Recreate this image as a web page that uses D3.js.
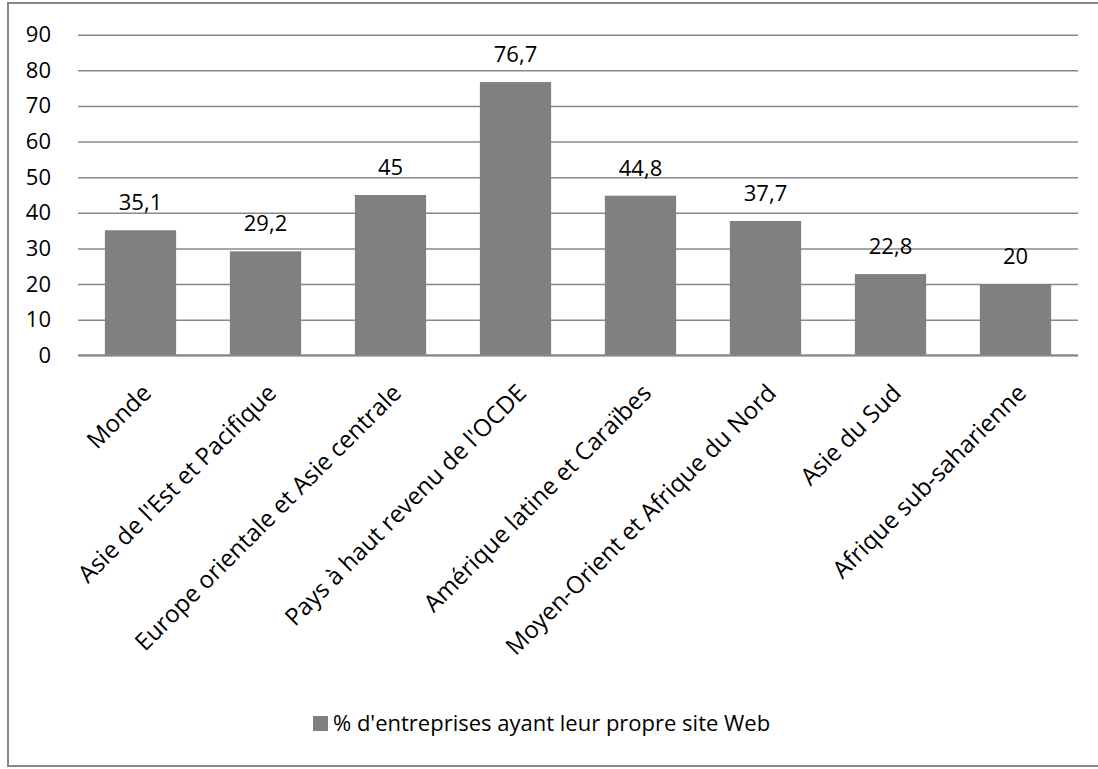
<!DOCTYPE html>
<html>
<head>
<meta charset="utf-8">
<script src="https://cdn.jsdelivr.net/npm/d3@7"></script>
<style>
  body { margin: 0; background: #fff; }
  svg text { font-family: "Open Sans", sans-serif; fill: #000; }
</style>
</head>
<body>
<div id="chart"></div>
<script>
// data
var categories = ["Monde", "Asie de l'Est et Pacifique", "Europe orientale et Asie centrale",
  "Pays à haut revenu de l'OCDE", "Amérique latine et Caraïbes",
  "Moyen-Orient et Afrique du Nord", "Asie du Sud", "Afrique sub-saharienne"];
var values = [35.1, 29.2, 45, 76.7, 44.8, 37.7, 22.8, 20];
var yTicks = [0, 10, 20, 30, 40, 50, 60, 70, 80, 90];
var seriesName = "% d'entreprises ayant leur propre site Web";

var W = 1098, H = 769;
var margin = {top: 34.7, left: 78},
    width = 1078 - margin.left,
    height = 355.3 - margin.top;
var fontSize = "22px";

var svg = d3.select("#chart").append("svg")
  .attr("width", W)
  .attr("height", H);

// outer chart border
svg.append("rect")
  .attr("x", 8).attr("y", 3)
  .attr("width", 1100).attr("height", 763)
  .attr("fill", "none")
  .attr("stroke", "#878787")
  .attr("stroke-width", 2);

var g = svg.append("g")
  .attr("transform", "translate(" + margin.left + "," + margin.top + ")");

var x = d3.scaleBand()
  .domain(categories)
  .range([0, width])
  .paddingInner(0.43)
  .paddingOuter(0.215);

var y = d3.scaleLinear()
  .domain([0, 90])
  .range([height, 0]);

// gridlines
g.append("g")
  .attr("class", "y-grid")
  .call(d3.axisLeft(y).tickValues(yTicks).tickFormat("").tickSizeInner(-width).tickSizeOuter(0))
  .call(s => s.select(".domain").remove())
  .selectAll("line")
    .attr("stroke", "#888")
    .attr("stroke-width", 1.5);

// y labels
g.append("g")
  .call(d3.axisLeft(y).tickValues(yTicks).tickSize(0).tickPadding(27))
  .call(s => s.select(".domain").remove())
  .selectAll("text")
    .style("font-size", fontSize)
    .style("font-family", "'Open Sans', sans-serif");

// bars
g.selectAll(".bar")
  .data(values)
  .enter().append("rect")
  .attr("class", "bar")
  .attr("x", (d, i) => x(categories[i]))
  .attr("y", d => y(d))
  .attr("width", x.bandwidth())
  .attr("height", d => y(0) - y(d))
  .attr("fill", "#808080");

// value labels
g.selectAll(".val")
  .data(values)
  .enter().append("text")
  .attr("class", "val")
  .attr("x", (d, i) => x(categories[i]) + x.bandwidth() / 2)
  .attr("y", d => y(d) - 20)
  .attr("text-anchor", "middle")
  .style("font-size", fontSize)
  .text(d => String(d).replace(".", ","));

// x axis baseline
g.append("line")
  .attr("x1", 0).attr("x2", width)
  .attr("y1", y(0)).attr("y2", y(0))
  .attr("stroke", "#888")
  .attr("stroke-width", 2);

// rotated category labels
g.selectAll(".cat")
  .data(categories)
  .enter().append("text")
  .attr("class", "cat")
  .attr("transform", d => "translate(" + (x(d) + x.bandwidth() / 2) + "," + (height + 27) + ") rotate(-45)")
  .attr("text-anchor", "end")
  .attr("dy", "0.72em")
  .style("font-size", "24px")
  .text(d => d);

// legend
var legend = svg.append("g").attr("transform", "translate(313,716)");
legend.append("rect")
  .attr("width", 15).attr("height", 15)
  .attr("fill", "#808080");
legend.append("text")
  .attr("x", 20).attr("y", 7.5)
  .attr("dy", "0.35em")
  .style("font-size", fontSize)
  .text(seriesName);
</script>
</body>
</html>
